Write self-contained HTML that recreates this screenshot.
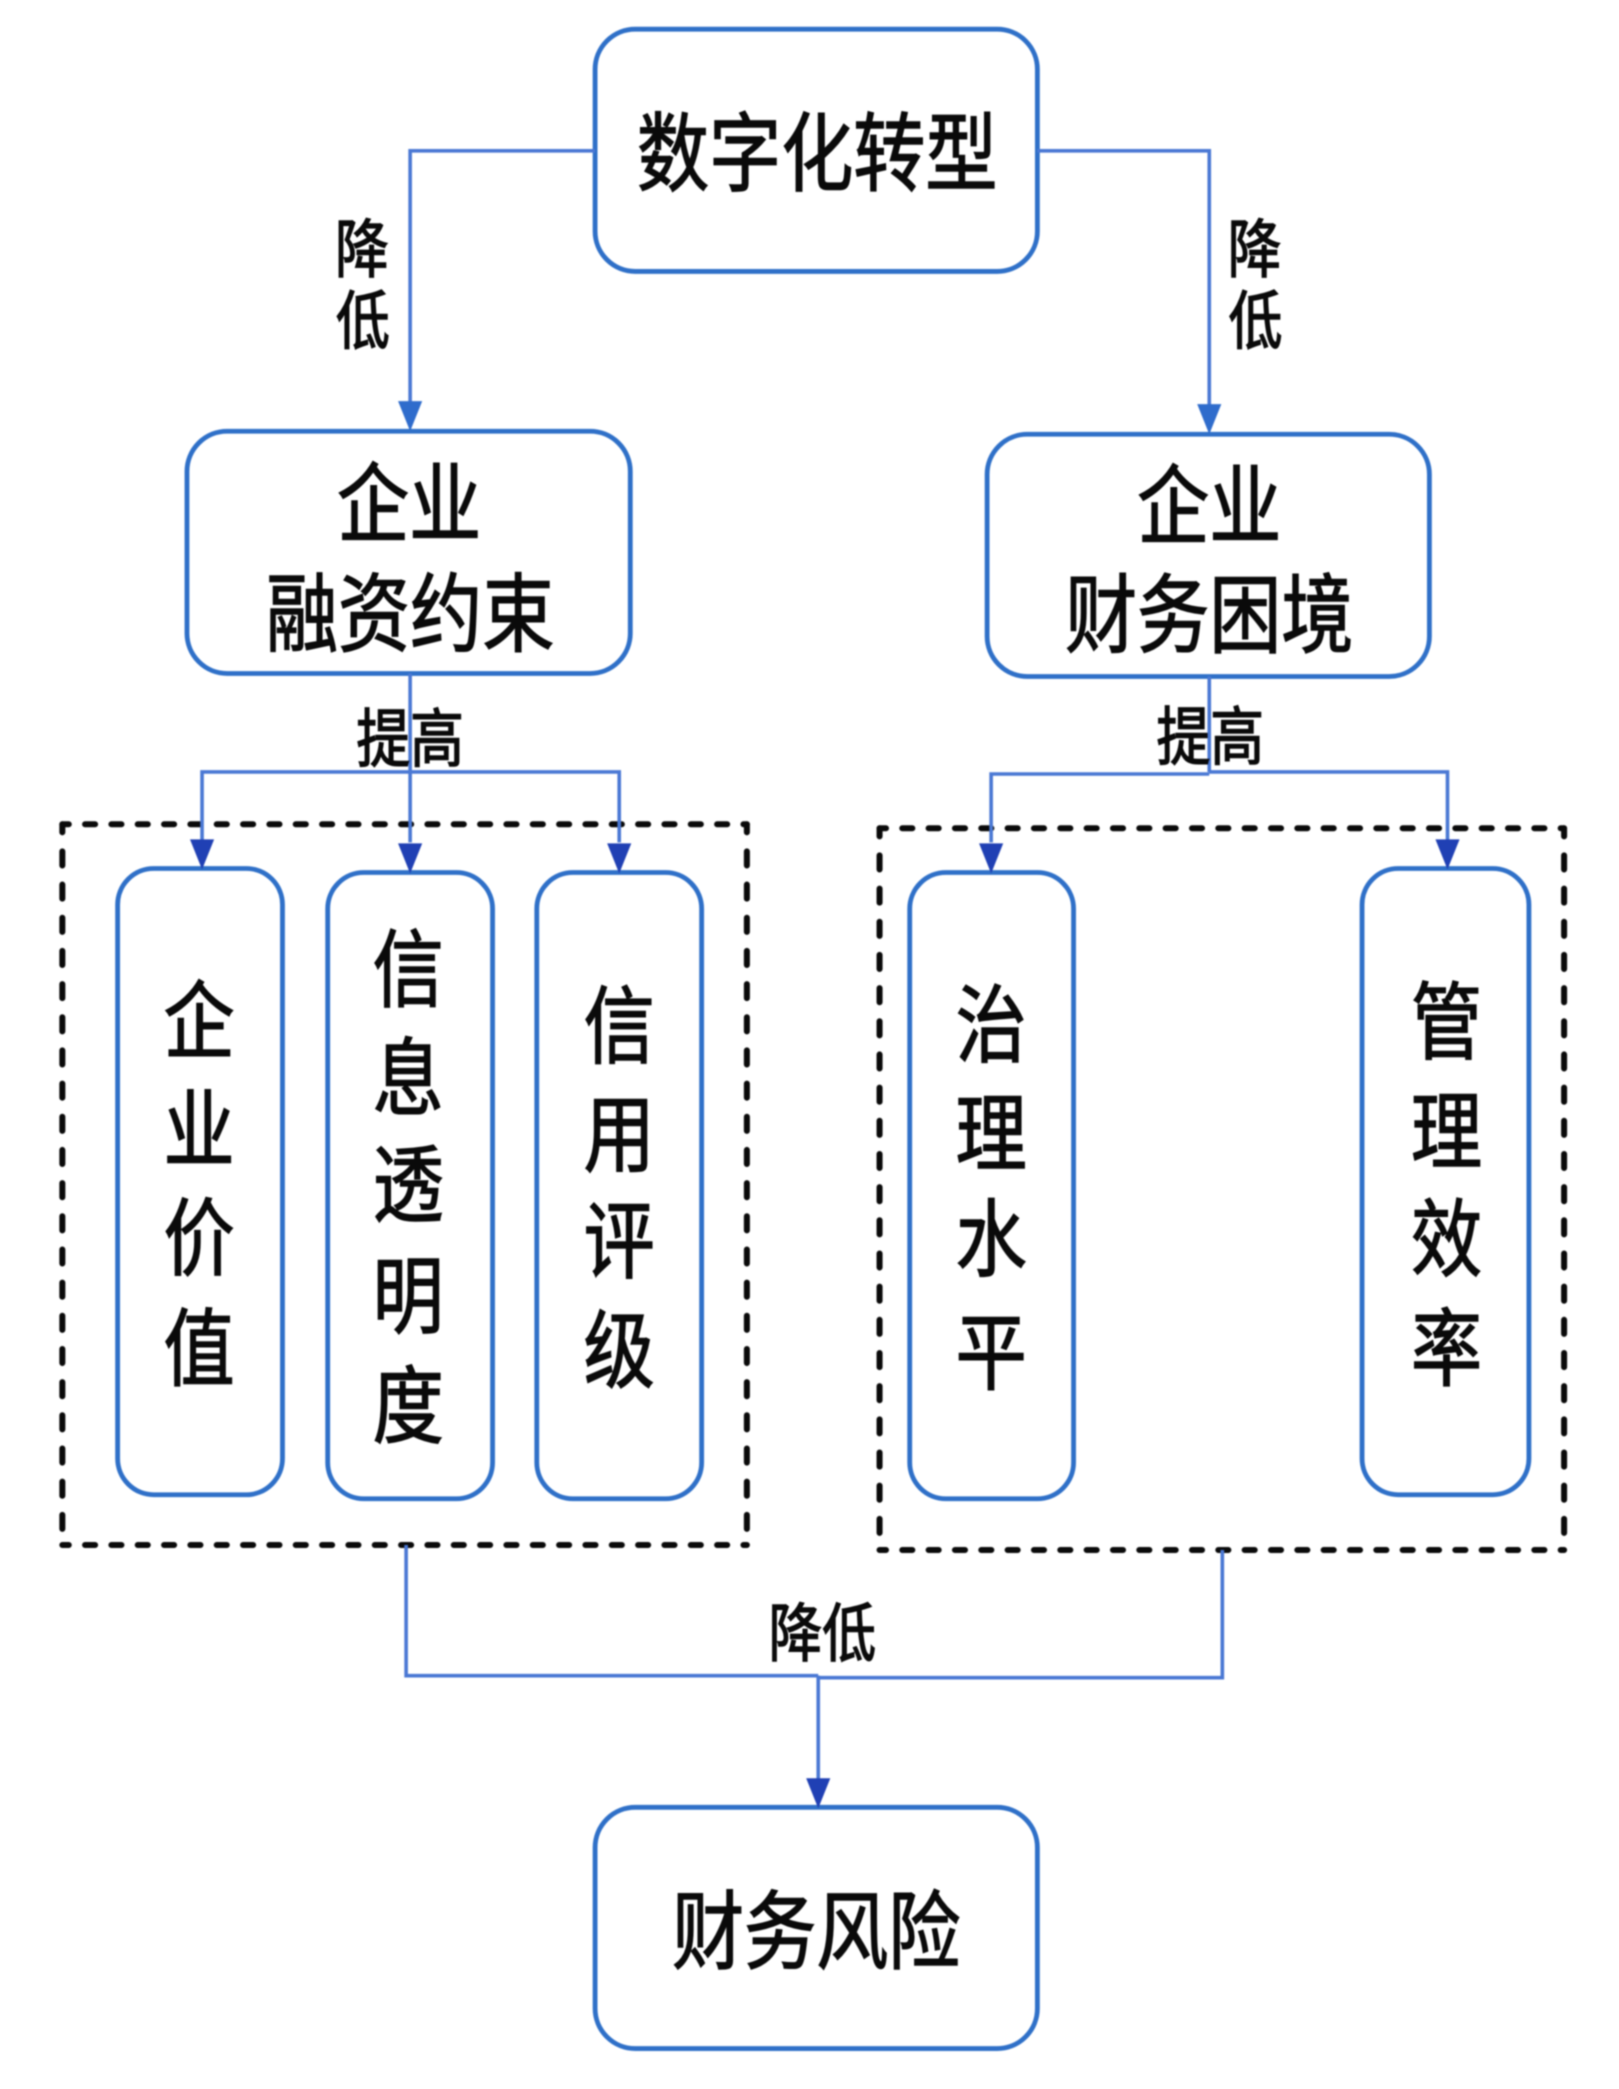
<!DOCTYPE html>
<html lang="zh">
<head>
<meta charset="utf-8">
<style>
html,body{margin:0;padding:0;background:#fff;width:1619px;height:2089px;overflow:hidden}
svg{display:block;filter:blur(.9px)}
text{font-family:"Liberation Sans","Noto Sans CJK SC",sans-serif;fill:#0a0a0a;stroke:#0a0a0a;stroke-width:1.2;text-anchor:middle;transform-box:fill-box;transform-origin:center;transform:scale(1.01,1.2)}
.b{fill:#fff;stroke:#2f70c8;stroke-width:4.8}
.dh{fill:none;stroke:#0a0a0a;stroke-width:6;stroke-linecap:round;stroke-dasharray:10 16.2;stroke-dashoffset:3.6}
.dv{fill:none;stroke:#0a0a0a;stroke-width:6;stroke-linecap:round;stroke-dasharray:14 19;stroke-dashoffset:6}
.l{fill:none;stroke:#4a78d4;stroke-width:3.6}
.big{font-size:71px}
.v{font-size:70px}
.s{font-size:53px}
</style>
</head>
<body>
<svg width="1619" height="2089" viewBox="0 0 1610.6 2078.2" xmlns="http://www.w3.org/2000/svg">
<rect width="1619" height="2089" fill="#fff"/>

<path class="dh" d="M62 820H743"/>
<path class="dh" d="M62 1537H743"/>
<path class="dv" d="M62 820V1537"/>
<path class="dv" d="M743 820V1537"/>
<path class="dh" d="M875 824H1556"/>
<path class="dh" d="M875 1542H1556"/>
<path class="dv" d="M875 824V1542"/>
<path class="dv" d="M1556 824V1542"/>

<rect class="b" x="592" y="29" width="440" height="241" rx="40"/>
<rect class="b" x="186" y="429" width="441" height="241" rx="40"/>
<rect class="b" x="982" y="432" width="440" height="241" rx="40"/>
<rect class="b" x="592" y="1798" width="440" height="240" rx="40"/>
<rect class="b" x="117" y="864" width="164" height="623" rx="36"/>
<rect class="b" x="326" y="868" width="164" height="623" rx="36"/>
<rect class="b" x="534" y="868" width="164" height="623" rx="36"/>
<rect class="b" x="905" y="868" width="163" height="623" rx="36"/>
<rect class="b" x="1355" y="864" width="166" height="623" rx="36"/>

<path class="l" d="M592 150H408V400"/>
<path class="l" d="M1032 150H1203V403"/>
<path class="l" d="M408 670V838"/>
<path class="l" d="M201 836V768H616V838"/>
<path class="l" d="M1203 673V768"/>
<path class="l" d="M986 838V770H1203M1203 768H1440V836"/>
<path class="l" d="M404 1537V1667H814"/>
<path class="l" d="M1216 1542V1669H814"/>
<path class="l" d="M814 1667V1772"/>

<polygon points="396,399 420,399 408,429" fill="#2f6ccc"/>
<polygon points="1191,402 1215,402 1203,432" fill="#2f6ccc"/>
<polygon points="189,835 213,835 201,865" fill="#2040b4"/>
<polygon points="396,839 420,839 408,869" fill="#2040b4"/>
<polygon points="604,839 628,839 616,869" fill="#2040b4"/>
<polygon points="974,839 998,839 986,869" fill="#2040b4"/>
<polygon points="1428,835 1452,835 1440,865" fill="#2040b4"/>
<polygon points="802,1769 826,1769 814,1799" fill="#2040b4"/>

<text class="big" x="813" y="178">数字化转型</text>
<text class="big" x="407" y="527">企业</text>
<text class="big" x="408" y="636">融资约束</text>
<text class="big" x="1203" y="529">企业</text>
<text class="big" x="1203" y="637">财务困境</text>
<text class="big" x="812" y="1947">财务风险</text>

<text class="v" x="198" y="1041">企</text>
<text class="v" x="198" y="1149">业</text>
<text class="v" x="198" y="1257">价</text>
<text class="v" x="198" y="1367">值</text>

<text class="v" x="406" y="990">信</text>
<text class="v" x="406" y="1098">息</text>
<text class="v" x="406" y="1204">透</text>
<text class="v" x="406" y="1315">明</text>
<text class="v" x="406" y="1424">度</text>

<text class="v" x="616" y="1046">信</text>
<text class="v" x="616" y="1154">用</text>
<text class="v" x="616" y="1260">评</text>
<text class="v" x="616" y="1369">级</text>

<text class="v" x="986" y="1045">治</text>
<text class="v" x="986" y="1153">理</text>
<text class="v" x="986" y="1258">水</text>
<text class="v" x="986" y="1371">平</text>

<text class="v" x="1439" y="1042">管</text>
<text class="v" x="1439" y="1151">理</text>
<text class="v" x="1439" y="1258">效</text>
<text class="v" x="1439" y="1367">率</text>

<text class="s" x="360" y="267">降</text>
<text class="s" x="361" y="338">低</text>
<text class="s" x="1248" y="267">降</text>
<text class="s" x="1249" y="338">低</text>
<text class="s" x="408" y="754">提高</text>
<text class="s" x="1204" y="752">提高</text>
<text class="s" x="818" y="1644">降低</text>
</svg>
</body>
</html>
